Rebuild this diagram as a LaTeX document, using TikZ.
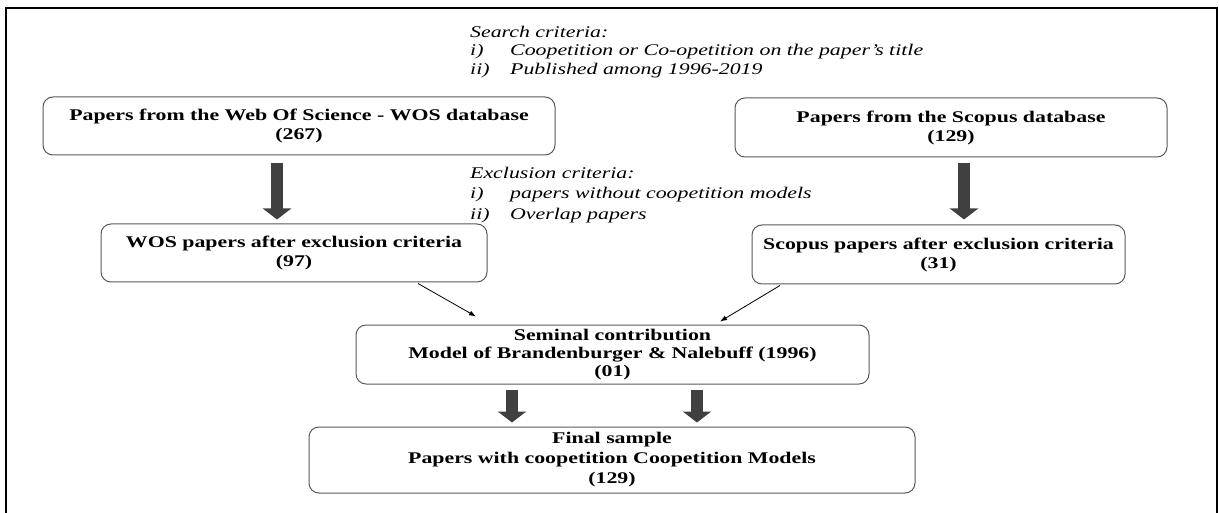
\documentclass[tikz,border=0pt]{standalone}
\usepackage{fontspec}
\setmainfont{Liberation Serif}[FakeStretch=1.34]
\usetikzlibrary{arrows.meta}
\definecolor{boxgray}{HTML}{595959}
\definecolor{arrowgray}{HTML}{404040}

\begin{document}
\begin{tikzpicture}[x=1pt,y=-1pt,
  box/.style={draw=boxgray,line width=1pt,rounded corners=10pt,align=center,inner sep=0pt,font=\fontsize{16.3}{19}\selectfont\bfseries},
  crit/.style={anchor=north west,inner sep=0pt,align=left,font=\fontsize{16.3}{19.5}\selectfont\itshape},
  bigarrow/.style={arrowgray,line width=12pt,-{Triangle[width=28pt,length=11pt]}},
  thinarrow/.style={line width=0.8pt,-{Latex[length=7pt,width=5pt]}}]
  \useasboundingbox (0,0) rectangle (1219,513);
  \draw[line width=2.2pt] (6,530) -- (6,8) -- (1217,8) -- (1217,530);
  \node[crit] (search) at (470,25.5) {Search criteria:\\[-1pt]\makebox[40pt][l]{i)}Coopetition or Co-opetition on the paper’s title\\[-1pt]\makebox[40pt][l]{ii)}Published among 1996-2019};
  \node[crit] (excl) at (470,166.5) {Exclusion criteria:\\[1pt]\makebox[40pt][l]{i)}papers without coopetition models\\[1pt]\makebox[40pt][l]{ii)}Overlap papers};
  \node[box,minimum width=512pt,minimum height=58pt] (wos) at (299,126) {Papers from the Web Of Science - WOS database\\(267)};
  \node[box,minimum width=432pt,minimum height=59pt] (scopus) at (951,127.5) {Papers from the Scopus database\\(129)};
  \node[box,minimum width=386pt,minimum height=58pt] (wosx) at (294,253) {WOS papers after exclusion criteria\\(97)};
  \node[box,minimum width=373pt,minimum height=59pt] (scopusx) at (938.5,254.5) {Scopus papers after exclusion criteria\\(31)};
  \node[box,minimum width=513pt,minimum height=59pt,font=\fontsize{16.3}{18}\selectfont\bfseries] (sem) at (612.5,354.5) {Seminal contribution\\Model of Brandenburger \& Nalebuff (1996)\\(01)};
  \node[box,minimum width=606pt,minimum height=66pt,font=\fontsize{16.3}{20}\selectfont\bfseries] (final) at (612,460) {Final sample\\Papers with coopetition Coopetition Models\\(129)};
  \draw[bigarrow] ([xshift=-22pt,yshift=-8pt]wos.south) -- ([xshift=-17pt,yshift=4pt]wosx.north);
  \draw[bigarrow] ([xshift=13pt,yshift=-6pt]scopus.south) -- ([xshift=25.5pt,yshift=5pt]scopusx.north);
  \draw[bigarrow] ([xshift=-100.5pt,yshift=-5pt]sem.south) -- ([xshift=-100pt,yshift=4pt]final.north);
  \draw[bigarrow] ([xshift=84.5pt,yshift=-5pt]sem.south) -- ([xshift=85pt,yshift=4pt]final.north);
  \draw[thinarrow] ([xshift=124pt,yshift=-1pt]wosx.south) -- ([xshift=-136.5pt,yshift=8pt]sem.north);
  \draw[thinarrow] ([xshift=-158.5pt,yshift=-1pt]scopusx.south) -- ([xshift=107.5pt,yshift=3pt]sem.north);
\end{tikzpicture}
\end{document}
